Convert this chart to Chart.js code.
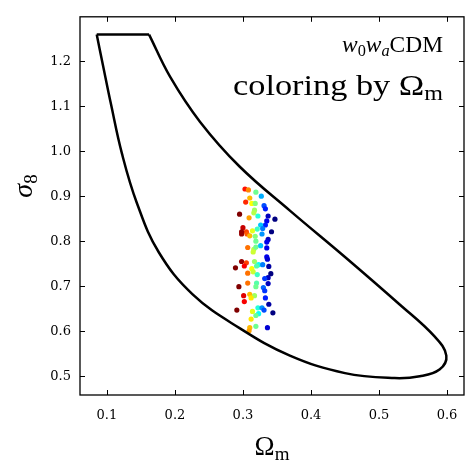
<!DOCTYPE html>
<html>
<head>
<meta charset="utf-8">
<script src="https://cdn.jsdelivr.net/npm/chart.js@4/dist/chart.umd.min.js"></script>
<style>
  html, body { margin: 0; padding: 0; background: #fff; }
  #wrap { width: 475px; height: 474px; position: relative; }
</style>
</head>
<body>
<div id="wrap"><canvas id="chart"></canvas></div>
<script>
// axis ticks
const xTicks = [0.1, 0.2, 0.3, 0.4, 0.5, 0.6]
const yTicks = [0.5, 0.6, 0.7, 0.8, 0.9, 1.0, 1.1, 1.2]

// closed contour (Omega_m, sigma_8), first segment is the flat top edge
const contourOm = [0.085, 0.162, 0.193, 0.237, 0.295, 0.369, 0.450, 0.530, 0.582, 0.599, 0.589, 0.560, 0.523, 0.450, 0.369, 0.295, 0.226, 0.176, 0.144, 0.122, 0.106, 0.094, 0.085]
const contourS8 = [1.259, 1.259, 1.165, 1.065, 0.966, 0.868, 0.765, 0.660, 0.588, 0.546, 0.515, 0.500, 0.496, 0.507, 0.546, 0.607, 0.682, 0.776, 0.885, 0.995, 1.104, 1.192, 1.259]

// samples, coloured by Omega_m
const omegaM = [0.303, 0.308, 0.319, 0.327, 0.310, 0.304, 0.313, 0.318, 0.331, 0.333, 0.317, 0.316, 0.295, 0.322, 0.309, 0.337, 0.347, 0.335, 0.333, 0.326, 0.300, 0.321, 0.314, 0.305, 0.298, 0.329, 0.342, 0.298, 0.306, 0.310, 0.318, 0.328, 0.319, 0.337, 0.335, 0.307, 0.316, 0.319, 0.326, 0.335, 0.315, 0.335, 0.336, 0.298, 0.305, 0.289, 0.302, 0.317, 0.323, 0.329, 0.313, 0.320, 0.338, 0.307, 0.315, 0.321, 0.341, 0.337, 0.332, 0.307, 0.320, 0.294, 0.319, 0.330, 0.337, 0.332, 0.301, 0.310, 0.317, 0.312, 0.302, 0.333, 0.338, 0.291, 0.322, 0.328, 0.331, 0.314, 0.323, 0.344, 0.319, 0.312, 0.310, 0.319, 0.336, 0.309]
const sigma8 = [0.916, 0.914, 0.909, 0.900, 0.896, 0.887, 0.884, 0.884, 0.879, 0.872, 0.869, 0.863, 0.860, 0.856, 0.852, 0.856, 0.849, 0.845, 0.836, 0.836, 0.830, 0.827, 0.823, 0.821, 0.821, 0.828, 0.821, 0.816, 0.816, 0.812, 0.811, 0.816, 0.800, 0.804, 0.798, 0.786, 0.782, 0.787, 0.790, 0.785, 0.776, 0.765, 0.760, 0.755, 0.752, 0.741, 0.745, 0.755, 0.748, 0.748, 0.739, 0.745, 0.744, 0.729, 0.732, 0.726, 0.728, 0.719, 0.717, 0.707, 0.707, 0.699, 0.699, 0.697, 0.706, 0.690, 0.679, 0.682, 0.679, 0.674, 0.666, 0.674, 0.660, 0.647, 0.652, 0.652, 0.647, 0.644, 0.639, 0.641, 0.635, 0.627, 0.608, 0.611, 0.608, 0.601]

const colorMin = 0.297, colorMax = 0.3395

// reversed jet colormap
function jet(v) {
  let t = (colorMax - v) / (colorMax - colorMin)
  t = Math.max(0, Math.min(1, t))
  const c = x => Math.round(255 * Math.max(0, Math.min(1, x)))
  return 'rgb(' + c(1.5 - Math.abs(4 * t - 3)) + ',' + c(1.5 - Math.abs(4 * t - 2)) + ',' + c(1.5 - Math.abs(4 * t - 1)) + ')'
}

const serif = '"Liberation Serif", "DejaVu Serif", serif'

// a run is a list of [text, fontsize, italic, baselineShift]
function runWidth(ctx, parts) {
  let w = 0
  parts.forEach(p => {
    ctx.font = (p[2] ? 'italic ' : '') + p[1] + 'px ' + serif
    w += ctx.measureText(p[0]).width
  })
  return w
}
function drawRun(ctx, parts, x, y) {
  parts.forEach(p => {
    ctx.font = (p[2] ? 'italic ' : '') + p[1] + 'px ' + serif
    ctx.fillText(p[0], x, y + p[3])
    x += ctx.measureText(p[0]).width
  })
}
// right aligned run stretched to a given width
function drawRunFit(ctx, parts, right, y, width) {
  const w = runWidth(ctx, parts)
  ctx.save()
  ctx.translate(right - width, y)
  ctx.scale(width / w, 1)
  drawRun(ctx, parts, 0, 0)
  ctx.restore()
}

const framePlugin = {
  id: 'frame',
  afterDraw(chart) {
    const ctx = chart.ctx
    const a = chart.chartArea
    const xs = chart.scales.x, ys = chart.scales.y
    ctx.save()
    ctx.strokeStyle = '#000'
    ctx.lineWidth = 1.3
    ctx.strokeRect(a.left, a.top, a.right - a.left, a.bottom - a.top)
    ctx.lineWidth = 1
    ctx.beginPath()
    xTicks.forEach(v => {
      const p = Math.round(xs.getPixelForValue(v)) + 0.5
      ctx.moveTo(p, a.bottom); ctx.lineTo(p, a.bottom - 5)
      ctx.moveTo(p, a.top); ctx.lineTo(p, a.top + 5)
    })
    yTicks.forEach(v => {
      const p = Math.round(ys.getPixelForValue(v)) + 0.5
      ctx.moveTo(a.left, p); ctx.lineTo(a.left + 5, p)
      ctx.moveTo(a.right, p); ctx.lineTo(a.right - 5, p)
    })
    ctx.stroke()

    ctx.fillStyle = '#000'
    ctx.textBaseline = 'alphabetic'
    ctx.textAlign = 'left'
    // annotation, right aligned
    const line1 = [['w', 23, true, 0], ['0', 16, false, 4], ['w', 23, true, 0], ['a', 16, true, 4], ['CDM', 23, false, 0]]
    const line2 = [['coloring by Ω', 30, false, 0], ['m', 21, false, 5]]
    drawRunFit(ctx, line1, 443, 52, 101)
    drawRunFit(ctx, line2, 443, 95, 210)

    // x axis title
    const xl = [['Ω', 27, false, 0], ['m', 19, false, 5]]
    drawRun(ctx, xl, (a.left + a.right) / 2 - runWidth(ctx, xl) / 2, 455)

    // y axis title
    const yl = [['σ', 28, true, 0], ['8', 19, false, 5]]
    ctx.translate(32, 186)
    ctx.rotate(-Math.PI / 2)
    drawRun(ctx, yl, -runWidth(ctx, yl) / 2, 0)
    ctx.restore()
  }
}

const contourPts = contourOm.map((v, i) => ({ x: v, y: contourS8[i] }))
const lineStyle = {
  showLine: true,
  borderColor: '#000',
  borderWidth: 2.5,
  borderJoinStyle: 'round',
  pointRadius: 0,
  fill: false
}

new Chart(document.querySelector('#chart'), {
  type: 'scatter',
  data: {
    datasets: [
      Object.assign({ data: contourPts.slice(0, 2), tension: 0 }, lineStyle),
      Object.assign({ data: contourPts.slice(1), tension: 0.4 }, lineStyle),
      {
        data: omegaM.map((v, i) => ({ x: v, y: sigma8[i] })),
        pointRadius: 2.6,
        pointBorderWidth: 0,
        pointBackgroundColor: omegaM.map(jet),
        borderColor: 'rgba(0,0,0,0)'
      }
    ]
  },
  options: {
    responsive: true,
    maintainAspectRatio: false,
    animation: false,
    layout: { padding: { top: 11, right: 11, left: 0, bottom: 0 } },
    plugins: { legend: { display: false }, tooltip: { enabled: false } },
    scales: {
      x: {
        type: 'linear',
        min: 0.0604,
        max: 0.625,
        grid: { display: false, drawTicks: false },
        border: { display: false },
        afterBuildTicks: s => { s.ticks = xTicks.map(v => ({ value: v })) },
        afterFit: s => { s.height = 79 },
        ticks: {
          padding: 13,
          color: '#000',
          font: { family: 'DejaVu Serif', size: 13 },
          callback: v => v.toFixed(1)
        }
      },
      y: {
        type: 'linear',
        min: 0.4584,
        max: 1.2985,
        grid: { display: false, drawTicks: false },
        border: { display: false },
        afterBuildTicks: s => { s.ticks = yTicks.map(v => ({ value: v })) },
        afterFit: s => { s.width = 80 },
        ticks: {
          padding: 9,
          color: '#000',
          font: { family: 'DejaVu Serif', size: 13 },
          callback: v => v.toFixed(1)
        }
      }
    }
  },
  plugins: [framePlugin]
})
</script>
</body>
</html>
